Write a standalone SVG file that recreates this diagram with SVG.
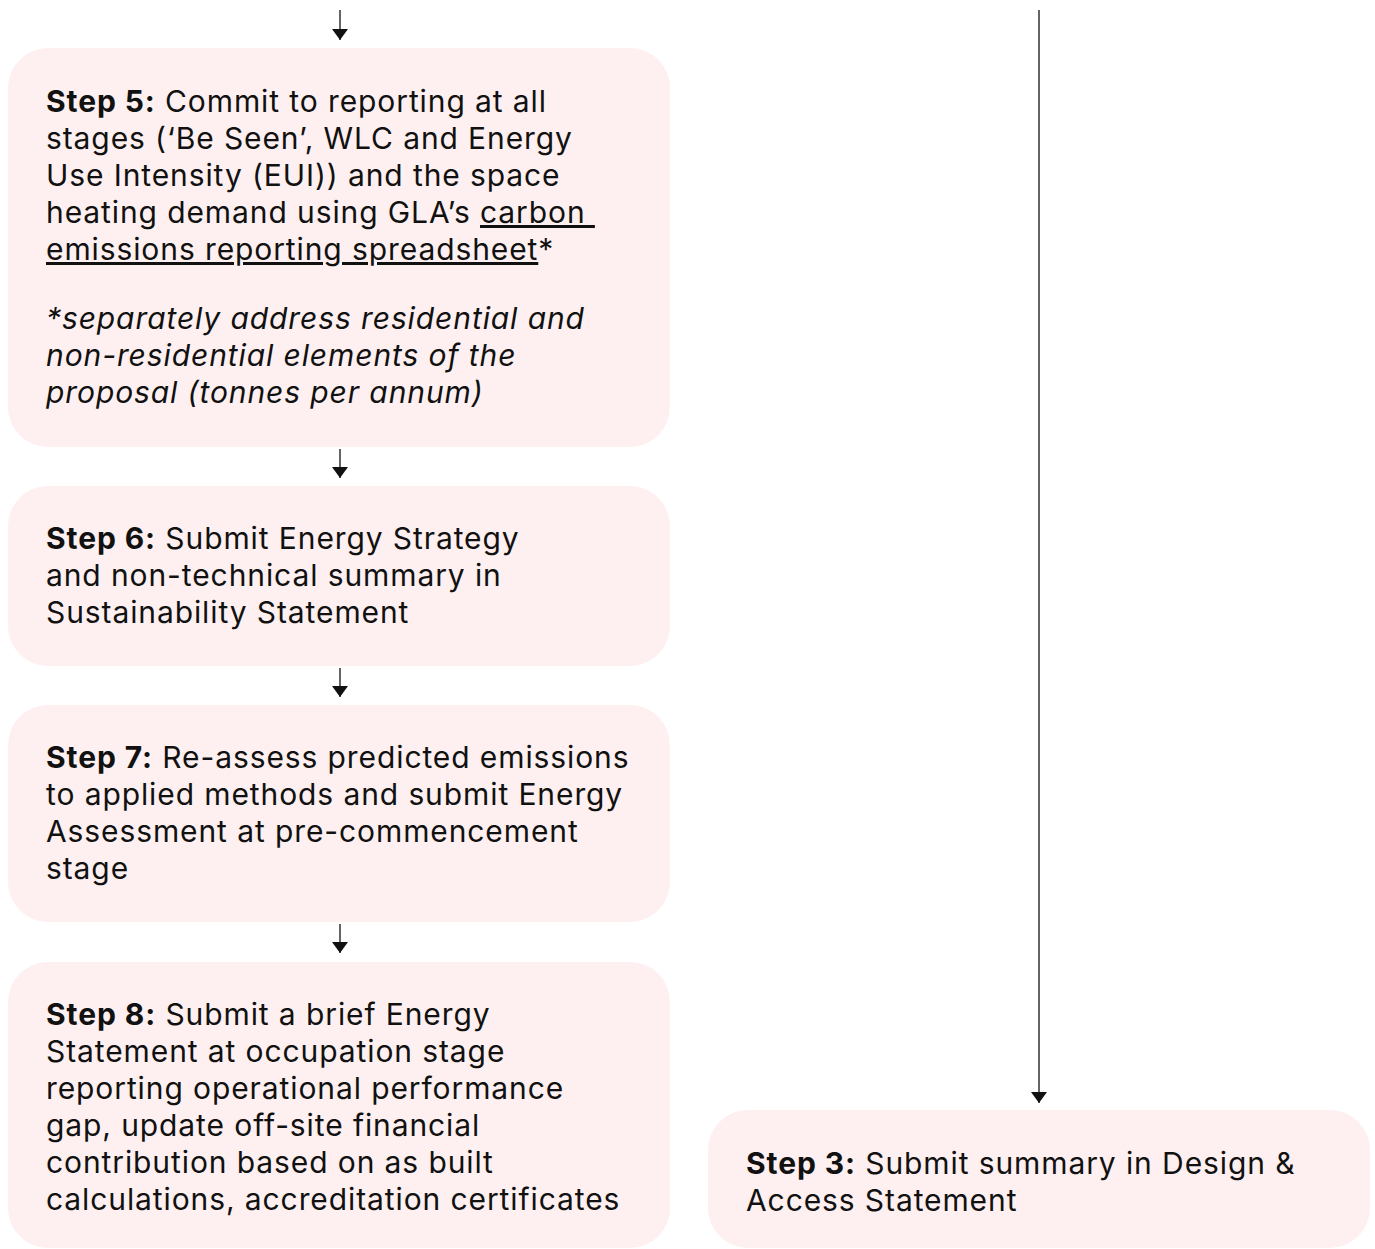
<svg xmlns="http://www.w3.org/2000/svg" width="1375" height="1249" viewBox="0 0 1375 1249">
<style>
.box{fill:#fef0f0;}
text{font-family:Inter,"Noto Sans","Liberation Sans",sans-serif;font-size:30px;fill:#111;letter-spacing:0.9px;}
.b{font-weight:700;}
.i{font-style:italic;}
.u{text-decoration:underline;}
.c{stroke:#111;stroke-width:1.3;fill:none;}
</style>
<defs>
<marker id="ah" markerWidth="11" markerHeight="16" refX="11" refY="8" orient="auto" markerUnits="userSpaceOnUse" viewBox="0 0 11 16">
<path d="M0,0 L11,8 L0,16 Z" fill="#111"/>
</marker>
</defs>
<rect width="1375" height="1249" fill="#fff"/>
<g id="connectors">
<line class="c" x1="340" y1="10" x2="340" y2="40" marker-end="url(#ah)"/>
<line class="c" x1="340" y1="449" x2="340" y2="478" marker-end="url(#ah)"/>
<line class="c" x1="340" y1="668" x2="340" y2="697" marker-end="url(#ah)"/>
<line class="c" x1="340" y1="924" x2="340" y2="953" marker-end="url(#ah)"/>
<line class="c" x1="1039" y1="10" x2="1039" y2="1103" marker-end="url(#ah)"/>
</g>
<g id="step5">
<rect class="box" x="8" y="48" width="662" height="399" rx="40"/>
<text x="46" y="112"><tspan class="b">Step 5:</tspan> Commit to reporting at all</text>
<text x="46" y="149">stages (‘Be Seen’, WLC and Energy</text>
<text x="46" y="186">Use Intensity (EUI)) and the space</text>
<text x="46" y="223" xml:space="preserve">heating demand using GLA’s <tspan class="u">carbon </tspan></text>
<text x="46" y="260"><tspan class="u">emissions reporting spreadsheet</tspan>*</text>
<text class="i" x="46" y="329">*separately address residential and</text>
<text class="i" x="46" y="366">non-residential elements of the</text>
<text class="i" x="46" y="403">proposal (tonnes per annum)</text>
</g>
<g id="step6">
<rect class="box" x="8" y="486" width="662" height="180" rx="40"/>
<text x="46" y="549"><tspan class="b">Step 6:</tspan> Submit Energy Strategy</text>
<text x="46" y="586">and non-technical summary in</text>
<text x="46" y="623">Sustainability Statement</text>
</g>
<g id="step7">
<rect class="box" x="8" y="705" width="662" height="217" rx="40"/>
<text x="46" y="768"><tspan class="b">Step 7:</tspan> Re-assess predicted emissions</text>
<text x="46" y="805">to applied methods and submit Energy</text>
<text x="46" y="842">Assessment at pre-commencement</text>
<text x="46" y="879">stage</text>
</g>
<g id="step8">
<rect class="box" x="8" y="962" width="662" height="286" rx="40"/>
<text x="46" y="1025"><tspan class="b">Step 8:</tspan> Submit a brief Energy</text>
<text x="46" y="1062">Statement at occupation stage</text>
<text x="46" y="1099">reporting operational performance</text>
<text x="46" y="1136">gap, update off-site financial</text>
<text x="46" y="1173">contribution based on as built</text>
<text x="46" y="1210">calculations, accreditation certificates</text>
</g>
<g id="step3">
<rect class="box" x="708" y="1110" width="662" height="138" rx="40"/>
<text x="746" y="1174"><tspan class="b">Step 3:</tspan> Submit summary in Design &amp;</text>
<text x="746" y="1211">Access Statement</text>
</g>
</svg>
